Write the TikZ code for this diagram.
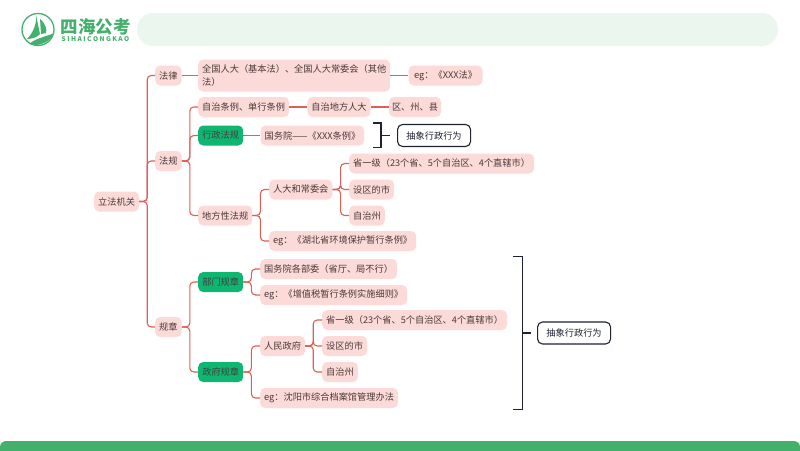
\documentclass[tikz,border=0pt]{standalone}
\usepackage{fontspec}
\setmainfont{Noto Sans CJK SC}
\usetikzlibrary{positioning}
\definecolor{pinkfill}{HTML}{FCDAD7}
\definecolor{linkred}{HTML}{DE5F58}
\definecolor{leafgreen}{HTML}{0FB671}
\definecolor{brandgreen}{HTML}{43B06B}
\definecolor{pillgreen}{HTML}{EAF6EE}
\definecolor{inkdark}{HTML}{4A3A3A}
\definecolor{bracketink}{HTML}{1E2233}
\tikzset{x=1pt, y=-1pt, font=\fontsize{9.2pt}{13pt}\selectfont}

\begin{document}
\begin{tikzpicture}[pinkbox/.style={rectangle, fill=pinkfill, rounded corners=5pt, text=inkdark, minimum height=20pt, inner xsep=4pt, inner ysep=2pt},
greenbox/.style={pinkbox, fill=leafgreen, text=black!75, minimum width=45pt, inner xsep=0pt},
notebox/.style={rectangle, draw=bracketink, line width=1.1pt, fill=white, rounded corners=5pt, text=bracketink, minimum width=73pt, minimum height=22pt, inner xsep=0pt},
link/.style={draw=linkred, line width=1.1pt, rounded corners=4pt},
branch/.style={link, to path={-- ++(8,0) |- (\tikztotarget)}},
bracketline/.style={draw=bracketink, line width=1.2pt}]
    \useasboundingbox (0,0) rectangle (800,450);
    % header and footer
    \fill[pillgreen, rounded corners=16pt] (137,13) rectangle (778,46);
    \fill[brandgreen, rounded corners=6pt] (0,441) rectangle (800,460);
    % logo
    \draw[brandgreen, line width=1.3pt] (38,29.5) circle (16);
    \fill[brandgreen] (36,15) .. controls (37,24) and (33,33) .. (27,39) .. controls (32,39) and (38,37) .. (40,34) -- cycle;
    \fill[brandgreen] (40,19) .. controls (46,24) and (47,30) .. (46,33) -- (41,34) -- cycle;
    \fill[brandgreen] (29,44) .. controls (38,37) and (46,37) .. (54,33) .. controls (52,40) and (40,48) .. (29,44) -- cycle;
    \node[text=brandgreen, font=\fontsize{17.5pt}{18pt}\selectfont\bfseries, inner sep=0pt] (brand) at (95.5,27) {四海公考};
    \node[text=brandgreen, font=\fontsize{6.5pt}{7pt}\selectfont\bfseries, inner sep=0pt] (brandsub) at (95.5,39.5) {S I H A I C O N G K A O};

    % first level
    \node[pinkbox, anchor=west] (organ) at (94,201.5) {立法机关};
    \node[pinkbox, anchor=west] (law) at (155,75.5) {法律};
    \node[pinkbox, anchor=west] (regulation) at (155,161) {法规};
    \node[pinkbox, anchor=west] (rule) at (155,327) {规章};

    % law
    \node[pinkbox, anchor=west, align=left, minimum height=32pt] (people) at (198,75.5) {全国人大（基本法）、全国人大常委会（其他\\法）};
    \node[pinkbox, right=18pt of people, minimum width=74pt] (egLaw) {eg：《XXX法》};

    % regulation
    \node[pinkbox, anchor=west] (autonomy) at (198,107) {自治条例、单行条例};
    \node[pinkbox, right=18pt of autonomy] (localCongress) {自治地方人大};
    \node[pinkbox, right=18pt of localCongress, inner xsep=3pt] (county) {区、州、县};
    \node[greenbox, anchor=west] (admin) at (198,135.5) {行政法规};
    \node[pinkbox, right=17pt of admin] (council) {国务院——《XXX条例》};
    \node[notebox, anchor=west] (abstractA) at (397,135.5) {抽象行政行为};
    \node[pinkbox, anchor=west] (localLaw) at (198,215.5) {地方性法规};
    \node[pinkbox, anchor=west] (congress) at (269,189.5) {人大和常委会};
    \node[pinkbox, anchor=west] (eg1) at (269,241) {eg：《湖北省环境保护暂行条例》};
    \node[pinkbox, anchor=west] (province) at (349,163.5) {省一级（23个省、5个自治区、4个直辖市）};
    \node[pinkbox, anchor=west] (city) at (349,189.5) {设区的市};
    \node[pinkbox, anchor=west] (prefecture) at (349,215.5) {自治州};

    % rule
    \node[greenbox, anchor=west] (dept) at (198,282) {部门规章};
    \node[pinkbox, anchor=west] (ministry) at (260,269) {国务院各部委（省厅、局不行）};
    \node[pinkbox, anchor=west] (egVat) at (260,295) {eg：《增值税暂行条例实施细则》};
    \node[greenbox, anchor=west] (gov) at (198,372) {政府规章};
    \node[pinkbox, anchor=west] (peopleGov) at (260,346) {人民政府};
    \node[pinkbox, anchor=west] (egShenyang) at (260,398) {eg：沈阳市综合档案馆管理办法};
    \node[pinkbox, anchor=west] (provinceB) at (322,320) {省一级（23个省、5个自治区、4个直辖市）};
    \node[pinkbox, anchor=west] (cityB) at (322,346) {设区的市};
    \node[pinkbox, anchor=west] (prefectureB) at (322,372) {自治州};
    \node[notebox, anchor=west] (abstractB) at (537,333) {抽象行政行为};

    % connectors
    \draw[branch] (organ.east) to (law.west);
    \draw[branch] (organ.east) to (regulation.west);
    \draw[branch] (organ.east) to (rule.west);
    \draw[link] (law) -- (people);
    \draw[link] (people) -- (egLaw);
    \draw[branch] (regulation.east) to (autonomy.west);
    \draw[branch] (regulation.east) to (admin.west);
    \draw[branch] (regulation.east) to (localLaw.west);
    \draw[link] (autonomy) -- (localCongress);
    \draw[link] (localCongress) -- (county);
    \draw[link] (admin) -- (council);
    \draw[branch] (localLaw.east) to (congress.west);
    \draw[branch] (localLaw.east) to (eg1.west);
    \draw[branch] (congress.east) to (province.west);
    \draw[branch] (congress.east) to (city.west);
    \draw[branch] (congress.east) to (prefecture.west);
    \draw[branch] (rule.east) to (dept.west);
    \draw[branch] (rule.east) to (gov.west);
    \draw[branch] (dept.east) to (ministry.west);
    \draw[branch] (dept.east) to (egVat.west);
    \draw[branch] (gov.east) to (peopleGov.west);
    \draw[branch] (gov.east) to (egShenyang.west);
    \draw[branch] (peopleGov.east) to (provinceB.west);
    \draw[branch] (peopleGov.east) to (cityB.west);
    \draw[branch] (peopleGov.east) to (prefectureB.west);

    % brackets
    \draw[bracketline] (373,123) -- (381,123) -- (381,147.5) -- (373,147.5);
    \draw[bracketline] (381,135.5) -- (390,135.5);
    \draw[bracketline] (513,256.5) -- (522.5,256.5) -- (522.5,409.5) -- (513,409.5);
    \draw[bracketline] (522.5,333) -- (531,333);
\end{tikzpicture}
\end{document}
